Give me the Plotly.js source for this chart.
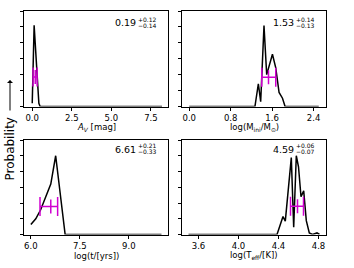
<!DOCTYPE html>
<html>
<head>
<meta charset="utf-8">
<script src="https://cdn.plot.ly/plotly-3.0.1.min.js"></script>
<style>html,body{margin:0;padding:0;background:#fff;}#chart{width:354px;height:268px;}</style>
</head>
<body>
<div id="chart"></div>
<script>
// ---- data ----
const avX   = [0.0, 0.12, 0.42, 0.5, 8.2];
const avY   = [0.02, 0.51, 0.02, 0.0, 0.0];

const massX = [0.0, 1.268, 1.334, 1.379, 1.443, 1.495, 1.606, 1.670, 1.734, 1.800, 1.850, 2.5];
const massY = [0.0, 0.0, 0.143, 0.03, 0.508, 0.20, 0.328, 0.243, 0.088, 0.052, 0.0, 0.0];

const ageX  = [6.0, 6.15, 6.3, 6.5, 6.61, 6.76, 7.05, 10.0];
const ageY  = [0.063, 0.10, 0.157, 0.26, 0.32, 0.50, 0.0, 0.0];

const teffX = [3.5, 4.385, 4.42, 4.445, 4.468, 4.528, 4.552, 4.578, 4.60, 4.625, 4.652, 4.678, 4.708, 4.74, 4.785, 4.81];
const teffY = [0.0, 0.0, 0.067, 0.114, 0.085, 0.488, 0.046, 0.50, 0.43, 0.24, 0.277, 0.088, 0.01, 0.0, 0.01, 0.0];

const bestVal   = [0.19, 1.53, 6.61, 4.59];
const errPlus   = [0.12, 0.14, 0.21, 0.06];
const errMinus  = [0.14, 0.13, 0.33, 0.07];
const errLevel  = [0.185, 0.183, 0.178, 0.18];

const xTitles = ['<i>A</i><sub><i>V</i></sub> [mag]', 'log(M<sub>ini</sub>/M<sub>\u2299</sub>)',
                 'log(t/[yrs])', 'log(T<sub>eff</sub>/[K])'];
const yLabel = 'Probability';

// ---- figure ----
const W = 354, H = 268;
const MAG = '#d000d0';
const FONT = 'DejaVu Sans';
const px = v => v / W;
const py = v => 1 - v / H;

const lines = [[avX, avY], [massX, massY], [ageX, ageY], [teffX, teffY]];
const traces = [];
lines.forEach((d, i) => {
  const ax = i === 0 ? '' : String(i + 1);
  traces.push({x: d[0], y: d[1], type: 'scatter', mode: 'lines',
    line: {color: '#000', width: 1.5}, xaxis: 'x' + ax, yaxis: 'y' + ax,
    showlegend: false, hoverinfo: 'skip'});
  traces.push({x: [bestVal[i]], y: [errLevel[i]], type: 'scatter', mode: 'markers',
    marker: {symbol: 'line-ns-open', size: 10, color: MAG, line: {color: MAG, width: 1.5}},
    error_x: {type: 'data', symmetric: false, array: [errPlus[i]], arrayminus: [errMinus[i]],
      color: MAG, thickness: 1.5, width: 9.5},
    xaxis: 'x' + ax, yaxis: 'y' + ax, showlegend: false, hoverinfo: 'skip'});
});

// panel pixel boxes [left, right, top, bottom]
const boxes = [[24, 168, 11, 106.5], [182, 326, 11, 106.5], [24, 168, 140, 234.5], [182, 326, 140, 234.5]];
const xr = [[-0.52, 8.58], [-0.14, 2.64], [5.79, 10.2], [3.435, 4.875]];
const xd = [2.5, 0.8, 1.5, 0.4];

const layout = {
  width: W, height: H, margin: {l: 0, r: 0, t: 0, b: 0},
  paper_bgcolor: '#fff', plot_bgcolor: '#fff',
  font: {family: FONT, color: '#000', size: 8.5},
  annotations: []
};
boxes.forEach((b, i) => {
  const ax = i === 0 ? '' : String(i + 1);
  const common = {showline: true, mirror: true, linecolor: '#000', linewidth: 1,
    ticks: 'outside', ticklen: 3.5, tickwidth: 1, tickcolor: '#000',
    showgrid: false, zeroline: false, fixedrange: true};
  layout['xaxis' + ax] = Object.assign({}, common, {
    domain: [px(b[0]), px(b[1])], range: xr[i], tick0: 0, dtick: xd[i], tickformat: '.1f',
    anchor: 'y' + ax, tickfont: {family: FONT, size: 8.5, color: '#000'}});
  layout['yaxis' + ax] = Object.assign({}, common, {
    domain: [py(b[3]), py(b[2])], range: [0, 0.6], tick0: 0, dtick: 0.1,
    showticklabels: false, anchor: 'x' + ax});
  // x-axis title
  layout.annotations.push({text: xTitles[i], xref: 'paper', yref: 'paper',
    x: px((b[0] + b[1]) / 2), y: py(b[3] + 21), xanchor: 'center', yanchor: 'middle',
    showarrow: false, font: {family: FONT, size: 8.5, color: '#000'}});
  // value with asymmetric errors
  const tx = b[0] + 112.5, ty = b[2] + (i < 2 ? 12 : 9);
  layout.annotations.push({text: bestVal[i].toFixed(2), xref: 'paper', yref: 'paper',
    x: px(tx + 0.5), y: py(ty), xanchor: 'right', yanchor: 'middle', showarrow: false,
    borderpad: 0, font: {family: FONT, size: 9.5, color: '#000'}});
  layout.annotations.push({text: '+' + errPlus[i].toFixed(2), xref: 'paper', yref: 'paper',
    x: px(tx), y: py(ty - 3.3), xanchor: 'left', yanchor: 'middle', showarrow: false,
    borderpad: 0, font: {family: FONT, size: 6, color: '#000'}});
  layout.annotations.push({text: '\u2212' + errMinus[i].toFixed(2), xref: 'paper', yref: 'paper',
    x: px(tx), y: py(ty + 2.8), xanchor: 'left', yanchor: 'middle', showarrow: false,
    borderpad: 0, font: {family: FONT, size: 6, color: '#000'}});
});
// y label and its long arrow
layout.annotations.push({text: yLabel, xref: 'paper', yref: 'paper', x: px(9.5), y: py(149),
  xanchor: 'center', yanchor: 'middle', textangle: -90, showarrow: false,
  font: {family: FONT, size: 12, color: '#000'}});
layout.annotations.push({text: '', xref: 'paper', yref: 'paper', x: px(10), y: py(80),
  showarrow: true, ax: 0, ay: 32, arrowhead: 1, arrowsize: 1, arrowwidth: 1,
  arrowcolor: '#000', standoff: 0, startstandoff: 0});

Plotly.newPlot('chart', traces, layout, {displayModeBar: false, staticPlot: true});
</script>
</body>
</html>
